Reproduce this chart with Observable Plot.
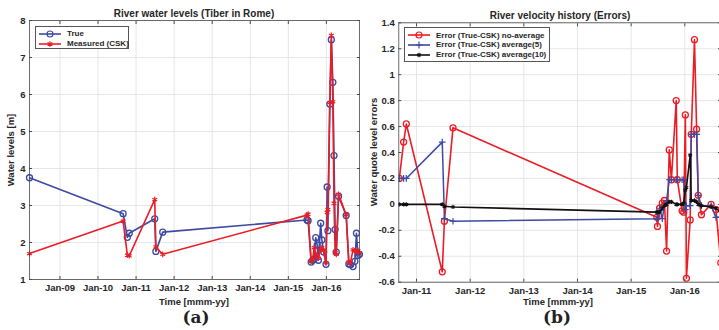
<!DOCTYPE html>
<html><head><meta charset="utf-8">
<script src="https://cdn.jsdelivr.net/npm/d3@7"></script>
<script src="https://cdn.jsdelivr.net/npm/@observablehq/plot@0.6"></script>
<style>
body{margin:0;background:#fff;font-family:"Liberation Sans",Arial,sans-serif;color:#262626;}
#wrap{position:relative;width:719px;height:330px;overflow:hidden;}
#wrap svg{position:absolute;top:0;}
.t{position:absolute;transform:translate(-50%,-50%);white-space:nowrap;font-weight:bold;}
.title{font-size:10px;}
.ax{font-size:9.5px;}
.yl{font-size:9.5px;transform:translate(-50%,-50%) rotate(-90deg);}
.cap{font-family:"DejaVu Serif",serif;font-size:17px;font-weight:bold;color:#222;}
.leg{position:absolute;background:#fff;border:0.8px solid #555;box-sizing:border-box;}
.leg .row{position:absolute;left:0;height:10px;display:flex;align-items:center;font-size:8px;font-weight:bold;white-space:nowrap;}
</style></head><body><div id="wrap"></div>
<script>
// ---- Left chart data (decimal years) ----
const levelDates = [2008.20, 2010.66, 2010.77, 2010.82, 2011.49, 2011.52, 2011.70, 2015.49, 2015.52, 2015.60, 2015.64, 2015.68, 2015.72, 2015.76, 2015.79, 2015.85, 2015.88, 2015.93, 2015.99, 2016.02, 2016.04, 2016.09, 2016.13, 2016.17, 2016.20, 2016.23, 2016.26, 2016.32, 2016.52, 2016.59, 2016.63, 2016.70, 2016.75, 2016.79, 2016.83, 2016.87];
const trueLevels = [3.75, 2.78, 2.14, 2.25, 2.64, 1.76, 2.28, 2.61, 2.59, 1.47, 1.52, 1.55, 2.13, 1.93, 1.52, 2.52, 2.07, 1.74, 1.41, 3.50, 2.32, 5.74, 7.48, 6.33, 4.35, 2.35, 1.74, 3.25, 2.73, 1.42, 1.40, 1.35, 1.49, 2.25, 1.65, 1.68];
const measuredLevels = [1.70, 2.58, 1.66, 1.64, 3.16, 1.88, 1.68, 2.74, 2.77, 1.50, 1.56, 1.86, 1.70, 1.62, 1.58, 1.80, 1.86, 1.78, 1.45, 2.81, 2.89, 5.78, 7.60, 5.80, 3.06, 1.72, 1.68, 3.30, 2.75, 1.47, 1.45, 1.80, 1.78, 1.76, 1.78, 1.72];
const leftXTicks = [2009, 2010, 2011, 2012, 2013, 2014, 2015, 2016];
const leftXLabels = ["Jan-09", "Jan-10", "Jan-11", "Jan-12", "Jan-13", "Jan-14", "Jan-15", "Jan-16"];
const leftYTicks = [1, 2, 3, 4, 5, 6, 7, 8];

// ---- Right chart data ----
const errDates = [2010.68, 2010.76, 2010.81, 2011.48, 2011.52, 2011.68, 2015.48, 2015.49, 2015.53, 2015.58, 2015.62, 2015.66, 2015.71, 2015.75, 2015.84, 2015.86, 2015.95, 2015.98, 2016.01, 2016.03, 2016.10, 2016.12, 2016.18, 2016.22, 2016.25, 2016.31, 2016.49, 2016.58, 2016.67];
const errRaw = [0.20, 0.48, 0.62, -0.52, -0.13, 0.59, -0.10, -0.17, -0.03, 0.01, 0.03, -0.36, 0.42, 0.19, 0.80, 0.19, -0.05, -0.06, 0.69, -0.57, -0.12, 0.54, 1.27, 0.58, 0.07, -0.08, 0.00, -0.04, -0.45];
const errAvg5 = [0.20, 0.20, 0.20, 0.48, -0.11, -0.13, -0.11, -0.11, -0.03, -0.11, -0.01, 0.03, 0.19, 0.19, 0.19, 0.19, 0.19, 0.19, -0.04, -0.01, -0.01, 0.54, 0.54, 0.54, 0.07, -0.01, -0.01, -0.10, -0.10];
const errAvg10 = [0, 0, 0, 0, -0.015, -0.02, -0.06, -0.06, -0.06, -0.03, -0.01, 0.00, 0.02, 0.02, 0.00, 0.00, 0.00, 0.01, 0.11, 0.13, 0.38, 0.03, 0.03, 0.02, 0.00, -0.01, -0.02, -0.03, -0.06];
const rightXTicks = [2011, 2012, 2013, 2014, 2015, 2016];
const rightXLabels = ["Jan-11", "Jan-12", "Jan-13", "Jan-14", "Jan-15", "Jan-16"];
const rightYTicks = [-0.6, -0.4, -0.2, 0, 0.2, 0.4, 0.6, 0.8, 1, 1.2, 1.4];

const BLUE = "#3d4aa3", RED = "#ec1c24", BLACK = "#111";
const GRID = "#e6e6e6", FRAME = "#4a4a4a";

const levels = levelDates.map((d, i) => ({date: d, t: trueLevels[i], m: measuredLevels[i]}));
const errs = errDates.map((d, i) => ({date: d, raw: errRaw[i], a5: errAvg5[i], a10: errAvg10[i]}));

const wrap = document.getElementById("wrap");
const fmtY = d => String(Math.round(d * 10) / 10);

function axesMarks(xt, xl, yt, fy) {
  return [
    Plot.gridX(xt, {stroke: GRID, strokeOpacity: 1}),
    Plot.gridY(yt, {stroke: GRID, strokeOpacity: 1}),
    Plot.axisX(xt, {anchor: "bottom", tickSize: 0, tickPadding: 5, tickFormat: d => xl[xt.indexOf(d)], label: null}),
    Plot.axisX(xt, {anchor: "bottom", tickSize: -3, tickFormat: () => "", label: null, stroke: FRAME}),
    Plot.axisX(xt, {anchor: "top", tickSize: -3, tickFormat: () => "", label: null, stroke: FRAME}),
    Plot.axisY(yt, {anchor: "left", tickSize: 0, tickPadding: 4, tickFormat: fy, label: null}),
    Plot.axisY(yt, {anchor: "left", tickSize: -3, tickFormat: () => "", label: null, stroke: FRAME}),
    Plot.axisY(yt, {anchor: "right", tickSize: -3, tickFormat: () => "", label: null, stroke: FRAME})
  ];
}
const baseStyle = {fontFamily: "'Liberation Sans', Arial, sans-serif", fontSize: "9.5px", fontWeight: "bold", color: "#262626", background: "transparent", overflow: "visible"};

const left = Plot.plot({
  width: 360, height: 330, marginLeft: 29, marginRight: 1, marginTop: 20, marginBottom: 51,
  style: baseStyle,
  x: {domain: [2008.2, 2016.87]},
  y: {domain: [1, 8]},
  marks: [
    ...axesMarks(leftXTicks, leftXLabels, leftYTicks, d => String(d)),
    Plot.line(levels, {x: "date", y: "t", stroke: BLUE, strokeWidth: 1.6}),
    Plot.dot(levels, {x: "date", y: "t", r: 3, stroke: BLUE, strokeWidth: 1.3, fill: "none"}),
    Plot.line(levels, {x: "date", y: "m", stroke: RED, strokeWidth: 1.6}),
    Plot.dot(levels, {x: "date", y: "m", r: 2.6, symbol: "asterisk", stroke: RED, strokeWidth: 1.2}),
    Plot.frame({stroke: FRAME, strokeWidth: 0.8})
  ]
});
left.style.left = "0px";
wrap.appendChild(left);

const right = Plot.plot({
  width: 362, height: 330, marginLeft: 38.3, marginRight: 2, marginTop: 22.3, marginBottom: 48.3,
  style: baseStyle,
  x: {domain: [2010.67, 2016.665]},
  y: {domain: [-0.6, 1.4]},
  marks: [
    ...axesMarks(rightXTicks, rightXLabels, rightYTicks, fmtY),
    Plot.line(errs, {x: "date", y: "raw", stroke: RED, strokeWidth: 1.6, clip: true}),
    Plot.dot(errs, {x: "date", y: "raw", r: 3, stroke: RED, strokeWidth: 1.3, fill: "none", clip: true}),
    Plot.line(errs, {x: "date", y: "a5", stroke: BLUE, strokeWidth: 1.5, clip: true}),
    Plot.dot(errs, {x: "date", y: "a5", r: 2.3, symbol: "plus", stroke: BLUE, strokeWidth: 1.2, clip: true}),
    Plot.line(errs, {x: "date", y: "a10", stroke: BLACK, strokeWidth: 1.6, clip: true}),
    Plot.dot(errs, {x: "date", y: "a10", r: 2.0, symbol: "asterisk", stroke: BLACK, strokeWidth: 1.2, clip: true}),
    Plot.frame({stroke: FRAME, strokeWidth: 0.8})
  ]
});
right.style.left = "360px";
wrap.appendChild(right);

function txt(s, cls, x, y) {
  const d = document.createElement("div");
  d.className = "t " + cls;
  d.textContent = s;
  d.style.left = x + "px"; d.style.top = y + "px";
  wrap.appendChild(d);
}
txt("River water levels (Tiber in Rome)", "title", 194, 12.5);
txt("River velocity history (Errors)", "title", 560, 15);
txt("Time [mmm-yy]", "ax", 194, 301);
txt("Time [mmm-yy]", "ax", 558, 301);
txt("Water levels [m]", "yl", 10, 150);
txt("Water quote level errors", "yl", 373, 152);
txt("(a)", "cap", 196, 317);
txt("(b)", "cap", 557, 317);

// legends
function legend(x, y, w, h, entries) {
  const box = document.createElement("div");
  box.className = "leg";
  Object.assign(box.style, {left: x + "px", top: y + "px", width: w + "px", height: h + "px"});
  entries.forEach((e, i) => {
    const row = document.createElement("div");
    row.className = "row";
    row.style.top = (e.y - 5) + "px";
    const ns = "http://www.w3.org/2000/svg";
    const s = document.createElementNS(ns, "svg");
    s.setAttribute("width", e.lw + 6); s.setAttribute("height", 10);
    s.style.position = "static"; s.style.marginLeft = "2px";
    const ln = document.createElementNS(ns, "line");
    ln.setAttribute("x1", 1); ln.setAttribute("x2", e.lw + 1); ln.setAttribute("y1", 5); ln.setAttribute("y2", 5);
    ln.setAttribute("stroke", e.color); ln.setAttribute("stroke-width", 1.6);
    s.appendChild(ln);
    const sym = d3.symbol().type(e.sym).size(e.size)();
    const p = document.createElementNS(ns, "path");
    p.setAttribute("d", sym); p.setAttribute("transform", `translate(${e.lw / 2 + 1},5)`);
    p.setAttribute("fill", "none"); p.setAttribute("stroke", e.color); p.setAttribute("stroke-width", 1.2);
    s.appendChild(p);
    row.appendChild(s);
    const t = document.createElement("span");
    t.textContent = e.label; t.style.marginLeft = "1px";
    row.appendChild(t);
    box.appendChild(row);
  });
  wrap.appendChild(box);
}
legend(35, 26, 94, 23, [
  {label: "True", color: BLUE, sym: d3.symbolCircle, size: 28, lw: 22, y: 6.5},
  {label: "Measured (CSK)", color: RED, sym: d3.symbolAsterisk, size: 22, lw: 22, y: 16.5}
]);
legend(404, 27, 146, 35, [
  {label: "Error (True-CSK) no-average", color: RED, sym: d3.symbolCircle, size: 28, lw: 22, y: 7},
  {label: "Error (True-CSK) average(5)", color: BLUE, sym: d3.symbolPlus, size: 18, lw: 22, y: 16.5},
  {label: "Error (True-CSK) average(10)", color: BLACK, sym: d3.symbolAsterisk, size: 14, lw: 22, y: 26.5}
]);
</script>
</body></html>
